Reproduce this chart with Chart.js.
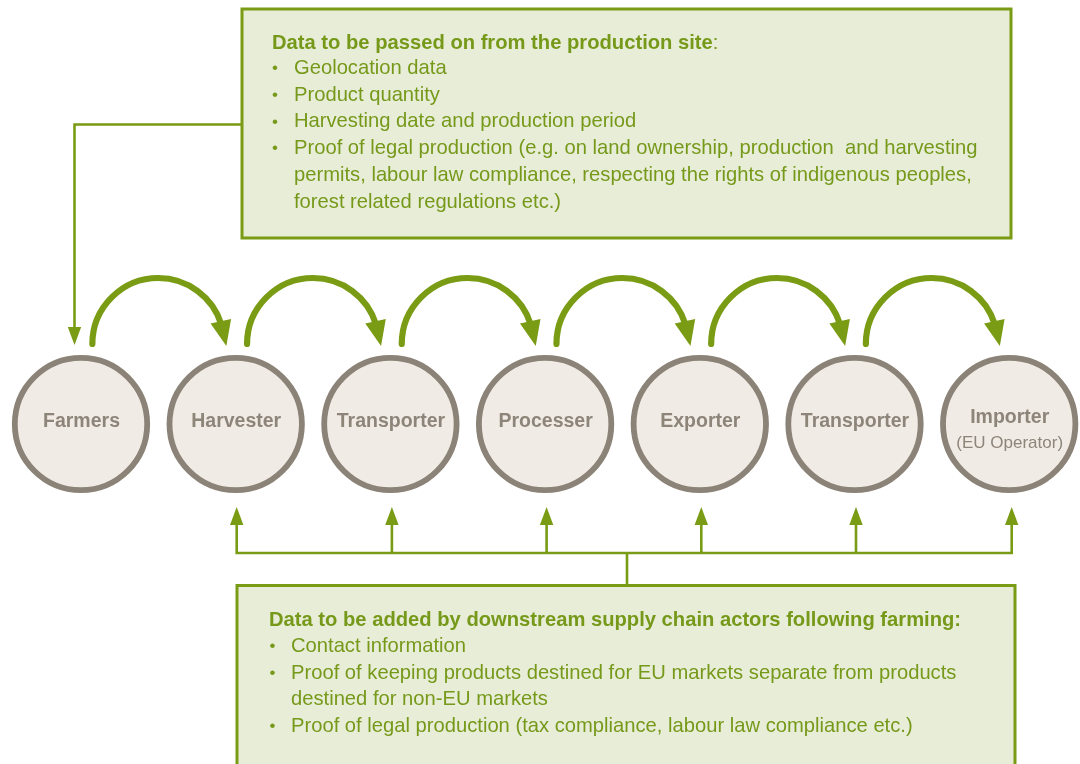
<!DOCTYPE html>
<html>
<head>
<meta charset="utf-8">
<script src="https://cdn.jsdelivr.net/npm/chart.js@4/dist/chart.umd.min.js"></script>
<style>
  html, body { margin: 0; padding: 0; background: #ffffff; }
  #wrap { width: 1080px; height: 764px; }
</style>
</head>
<body>
<div id="wrap"><canvas id="c" width="1080" height="764"></canvas></div>
<script>
// ---------- data ----------
const nodeNames = ['Farmers', 'Harvester', 'Transporter', 'Processer', 'Exporter', 'Transporter', 'Importer'];
const nodeSubs  = ['', '', '', '', '', '', '(EU Operator)'];
const nodeRow   = [0, 0, 0, 0, 0, 0, 0];

const topTitle  = 'Data to be passed on from the production site';
const topTitleSuffix = ':';
const topItems  = [
  ['Geolocation data'],
  ['Product quantity'],
  ['Harvesting date and production period'],
  ['Proof of legal production (e.g. on land ownership, production  and harvesting',
   'permits, labour law compliance, respecting the rights of indigenous peoples,',
   'forest related regulations etc.)']
];

const bottomTitle = 'Data to be added by downstream supply chain actors following farming:';
const bottomItems = [
  ['Contact information'],
  ['Proof of keeping products destined for EU markets separate from products',
   'destined for non-EU markets'],
  ['Proof of legal production (tax compliance, labour law compliance etc.)']
];

// ---------- styles / layout ----------
const GREEN = '#7a9b14';
const GREEN_TEXT = '#76991a';
const BOX_FILL = '#e8edd8';
const NODE_FILL = '#f0ebe5';
const NODE_LINE = '#8b8377';
const NODE_TEXT = '#8d857a';
const FONT = '"Liberation Sans", Arial, Helvetica, sans-serif';
const BODY_PX = 20.2;

const STEP = 154.7;         // px between node centres
const FIRST = 81;           // px of first node centre
const ROW_Y = 424;          // px of node row

const layout = {
  topBox:    { l: 242, t: 9,   r: 1011, b: 238 },
  bottomBox: { l: 237, t: 585.5, r: 1015, b: 820 },
  topText:   { titleX: 272, titleY: 43.5, bulletX: 272, textX: 294, y0: 68.5, lh: 26.7 },
  botText:   { titleX: 269, titleY: 620, bulletX: 269.5, textX: 291, y0: 646.5, lh: 26.6 },
  feedY: 124.5, feedOffset: -6.5, feedTip: 345, feedBase: 327,
  busY: 553, busTip: 507, busBase: 525, busStemX: 627,
  arcRise: 80, arcR: 66
};

const diagramPlugin = {
  id: 'diagram',
  beforeDatasetsDraw(chart) {
    const ctx = chart.ctx;
    const X = v => chart.scales.x.getPixelForValue(v);
    const Y = v => chart.scales.y.getPixelForValue(v);

    function head(x, base, tip, hw) {
      ctx.beginPath();
      ctx.moveTo(x - hw, base);
      ctx.lineTo(x + hw, base);
      ctx.lineTo(x, tip);
      ctx.closePath();
      ctx.fill();
    }

    ctx.save();
    // --- boxes ---
    ctx.lineWidth = 3;
    ctx.strokeStyle = GREEN;
    ctx.fillStyle = BOX_FILL;
    for (const b of [layout.topBox, layout.bottomBox]) {
      ctx.fillRect(b.l, b.t, b.r - b.l, b.b - b.t);
      ctx.strokeRect(b.l, b.t, b.r - b.l, b.b - b.t);
    }

    // --- feed line from top box to first node ---
    const fx = X(0) + layout.feedOffset;
    ctx.lineWidth = 2.6;
    ctx.beginPath();
    ctx.moveTo(layout.topBox.l, layout.feedY);
    ctx.lineTo(fx, layout.feedY);
    ctx.lineTo(fx, layout.feedBase + 1);
    ctx.stroke();
    ctx.fillStyle = GREEN;
    head(fx, layout.feedBase, layout.feedTip, 6.7);

    // --- bus from bottom box to nodes 1..n ---
    const busX = i => (i === 1) ? X(1) + 1 : (i === nodeNames.length - 1 ? X(i) + 2.5 : X(i) + 1.5);
    const first = busX(1), last = busX(nodeNames.length - 1);
    ctx.beginPath();
    ctx.moveTo(first, layout.busBase - 1);
    ctx.lineTo(first, layout.busY);
    ctx.lineTo(last, layout.busY);
    ctx.lineTo(last, layout.busBase - 1);
    ctx.moveTo(layout.busStemX, layout.busY);
    ctx.lineTo(layout.busStemX, layout.bottomBox.t);
    for (let i = 2; i < nodeNames.length - 1; i++) {
      ctx.moveTo(busX(i), layout.busY);
      ctx.lineTo(busX(i), layout.busBase - 1);
    }
    ctx.stroke();
    for (let i = 1; i < nodeNames.length; i++) {
      head(busX(i), layout.busBase, layout.busTip, 6.7);
    }

    // --- curved arrows between nodes ---
    const r = layout.arcR;
    ctx.lineWidth = 6.2;
    ctx.lineCap = 'round';
    for (let i = 0; i < nodeNames.length - 1; i++) {
      const cx = X(i + 0.5), cy = Y(layout.arcRise);
      const tEnd = 340 * Math.PI / 180;
      ctx.beginPath();
      ctx.arc(cx, cy, r, Math.PI, tEnd + 0.05, false);
      ctx.stroke();
      const bx = cx + (r + 0.5) * Math.cos(tEnd), by = cy + (r + 0.5) * Math.sin(tEnd);
      const tx = cx + 68, ty = cy + 2;
      const dx = tx - bx, dy = ty - by, len = Math.hypot(dx, dy);
      const px = -dy / len, py = dx / len, hw = 10.5;
      ctx.beginPath();
      ctx.moveTo(bx + px * hw, by + py * hw);
      ctx.lineTo(bx - px * hw, by - py * hw);
      ctx.lineTo(tx, ty);
      ctx.closePath();
      ctx.fill();
    }
    ctx.lineCap = 'butt';

    // --- text in boxes ---
    ctx.textBaseline = 'middle';
    ctx.textAlign = 'left';
    ctx.fillStyle = GREEN_TEXT;
    function drawBlock(t, title, suffix, items) {
      ctx.font = 'bold ' + BODY_PX + 'px ' + FONT;
      ctx.fillText(title, t.titleX, t.titleY);
      if (suffix) {
        const w = ctx.measureText(title).width;
        ctx.font = BODY_PX + 'px ' + FONT;
        ctx.fillText(suffix, t.titleX + w, t.titleY);
      }
      let line = 0;
      for (const item of items) {
        item.forEach((txt, k) => {
          const y = t.y0 + line * t.lh;
          if (k === 0) {
            ctx.font = '17px ' + FONT;
            ctx.fillText('\u2022', t.bulletX, y);
          }
          ctx.font = BODY_PX + 'px ' + FONT;
          ctx.fillText(txt, t.textX, y);
          line++;
        });
      }
    }
    drawBlock(layout.topText, topTitle, topTitleSuffix, topItems);
    drawBlock(layout.botText, bottomTitle, '', bottomItems);
    ctx.restore();
  },
  afterDatasetsDraw(chart) {
    const ctx = chart.ctx;
    const X = v => chart.scales.x.getPixelForValue(v);
    const Y = v => chart.scales.y.getPixelForValue(v);
    ctx.save();
    ctx.textAlign = 'center';
    ctx.textBaseline = 'middle';
    ctx.fillStyle = NODE_TEXT;
    nodeNames.forEach((name, i) => {
      const x = X(i) + 0.5, y = Y(nodeRow[i]);
      if (nodeSubs[i]) {
        ctx.font = 'bold 19.5px ' + FONT;
        ctx.fillText(name, x, y - 6);
        ctx.font = '17px ' + FONT;
        ctx.fillText(nodeSubs[i], x, y + 19);
      } else {
        ctx.font = 'bold 19.5px ' + FONT;
        ctx.fillText(name, x, y - 2);
      }
    });
    ctx.restore();
  }
};

new Chart(document.getElementById('c'), {
  type: 'scatter',
  data: {
    labels: nodeNames,
    datasets: [{
      data: nodeRow.map((v, i) => ({ x: i, y: v })),
      pointRadius: 66.2,
      pointHoverRadius: 66.2,
      pointBorderWidth: 5.8,
      pointHoverBorderWidth: 5.8,
      backgroundColor: NODE_FILL,
      borderColor: NODE_LINE,
      pointBackgroundColor: NODE_FILL,
      pointBorderColor: NODE_LINE,
      clip: false
    }]
  },
  options: {
    responsive: false,
    animation: false,
    devicePixelRatio: 1,
    layout: { padding: 0, autoPadding: false },
    events: [],
    plugins: { legend: { display: false }, tooltip: { enabled: false }, title: { display: false } },
    scales: {
      x: { type: 'linear', display: false, min: -FIRST / STEP, max: (1080 - FIRST) / STEP },
      y: { type: 'linear', display: false, min: -(764 - ROW_Y), max: ROW_Y }
    }
  },
  plugins: [diagramPlugin]
});
</script>
</body>
</html>
